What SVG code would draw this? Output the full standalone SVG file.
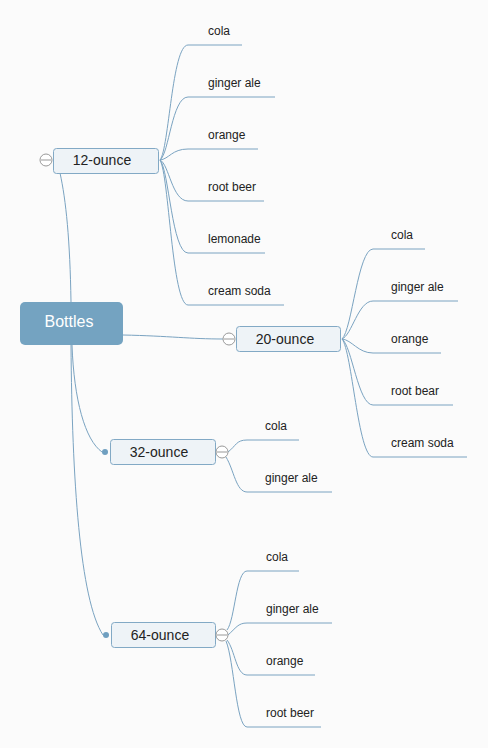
<svg xmlns="http://www.w3.org/2000/svg" width="488" height="748" viewBox="0 0 488 748">
<style>
.bg{fill:#fbfbfb}
.c{fill:none;stroke:#7aa3c1;stroke-width:1}
.node{fill:#eef3f7;stroke:#82a9c5;stroke-width:1}
.root{fill:#74a3c1}
.t{font-family:"Liberation Sans",Arial,sans-serif;fill:#222}
.leaf{font-size:12px}
.nt{font-size:14px;text-anchor:middle}
.rt{font-size:16px;text-anchor:middle;fill:#fff}
.tog{fill:#fff;stroke:#999;stroke-width:1}
.dot{fill:#6f9fc0}
</style>
<rect class="bg" x="0" y="0" width="488" height="748"/>
<g id="connectors">
<path class="c" d="M71,302 C70,240 66,200 60,173"/>
<path class="c" d="M123,335 C170,336 190,339 223,339"/>
<path class="c" d="M72,345 C74,400 85,440 102,452"/>
<path class="c" d="M71,345 C72,480 80,600 103,635"/>
<!-- 12-ounce leaves -->
<path class="c" d="M160,160 C169,149 172,45 188,45 H242"/>
<path class="c" d="M160,160 C169,154 172,97 188,97 H275"/>
<path class="c" d="M160,160 C169,159 172,149 188,149 H258"/>
<path class="c" d="M160,160 C169,164 172,201 188,201 H264"/>
<path class="c" d="M160,160 C169,170 172,253 188,253 H265"/>
<path class="c" d="M160,160 C169,175 172,305 188,305 H284"/>
<!-- 20-ounce leaves -->
<path class="c" d="M342,339 C352,330 358,249 373,249 H425"/>
<path class="c" d="M342,339 C352,335 358,301 373,301 H458"/>
<path class="c" d="M342,339 C352,340 358,353 373,353 H441"/>
<path class="c" d="M342,339 C352,346 358,405 373,405 H453"/>
<path class="c" d="M342,339 C352,351 358,457 373,457 H467"/>
<!-- 32-ounce leaves -->
<path class="c" d="M228,452 C236,446 236,440 247,440 H299"/>
<path class="c" d="M226,457 C234,470 236,492 247,492 H332"/>
<!-- 64-ounce leaves -->
<path class="c" d="M227,630 C235,620 236,571 247,571 H299"/>
<path class="c" d="M228,635 C236,628 238,623 247,623 H332"/>
<path class="c" d="M227,640 C235,650 236,675 247,675 H315"/>
<path class="c" d="M226,641 C234,660 236,727 247,727 H321"/>
</g>
<g id="bottles">
<rect class="root" x="20" y="302" width="103" height="43" rx="5"/>
<text class="t rt" x="69" y="327">Bottles</text>
</g>
<g id="n12">
<rect class="node" x="53.5" y="148.5" width="105" height="25" rx="3"/>
<text class="t nt" x="102" y="165">12-ounce</text>
<circle class="tog" cx="46" cy="160" r="6"/>
<line x1="41" y1="160" x2="51" y2="160" stroke="#999"/>
</g>
<g id="n20">
<rect class="node" x="236.5" y="326.5" width="104" height="25" rx="3"/>
<text class="t nt" x="285" y="344">20-ounce</text>
<circle class="tog" cx="229" cy="339" r="6"/>
<line x1="224" y1="339" x2="234" y2="339" stroke="#999"/>
</g>
<g id="n32">
<rect class="node" x="110.5" y="439.5" width="105" height="25" rx="3"/>
<text class="t nt" x="159" y="457">32-ounce</text>
<circle class="tog" cx="222" cy="452" r="6"/>
<line x1="217" y1="452" x2="227" y2="452" stroke="#999"/>
<circle class="dot" cx="105" cy="452" r="3"/>
</g>
<g id="n64">
<rect class="node" x="111.5" y="622.5" width="104" height="25" rx="3"/>
<text class="t nt" x="160" y="640">64-ounce</text>
<circle class="tog" cx="222" cy="635" r="6"/>
<line x1="217" y1="635" x2="227" y2="635" stroke="#999"/>
<circle class="dot" cx="106" cy="635" r="3"/>
</g>
<g id="leaves12">
<text class="t leaf" x="208" y="35">cola</text>
<text class="t leaf" x="208" y="87">ginger ale</text>
<text class="t leaf" x="208" y="139">orange</text>
<text class="t leaf" x="208" y="191">root beer</text>
<text class="t leaf" x="208" y="243">lemonade</text>
<text class="t leaf" x="208" y="295">cream soda</text>
</g>
<g id="leaves20">
<text class="t leaf" x="391" y="239">cola</text>
<text class="t leaf" x="391" y="291">ginger ale</text>
<text class="t leaf" x="391" y="343">orange</text>
<text class="t leaf" x="391" y="395">root bear</text>
<text class="t leaf" x="391" y="447">cream soda</text>
</g>
<g id="leaves32">
<text class="t leaf" x="265" y="430">cola</text>
<text class="t leaf" x="265" y="482">ginger ale</text>
</g>
<g id="leaves64">
<text class="t leaf" x="266" y="561">cola</text>
<text class="t leaf" x="266" y="613">ginger ale</text>
<text class="t leaf" x="266" y="665">orange</text>
<text class="t leaf" x="266" y="717">root beer</text>
</g>
</svg>
